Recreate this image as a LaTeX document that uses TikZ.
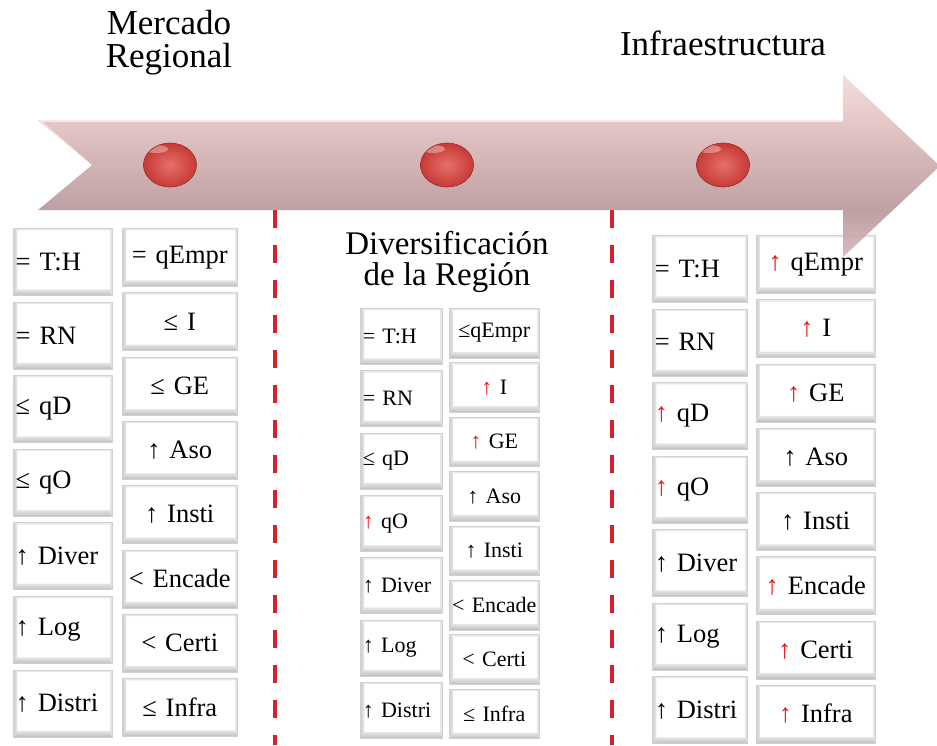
\documentclass[tikz,border=0pt]{standalone}
\usepackage{fontspec}
\setmainfont{Liberation Serif}
\usetikzlibrary{shapes.geometric}
\definecolor{shtop}{RGB}{228,194,194}
\definecolor{shbot}{RGB}{184,150,153}
\definecolor{ahtop}{RGB}{242,218,218}
\definecolor{ahbot}{RGB}{212,182,185}
\definecolor{ballred}{RGB}{200,58,54}
\definecolor{ballhi}{RGB}{228,112,105}
\definecolor{dashred}{RGB}{210,35,45}
\definecolor{upred}{RGB}{235,20,20}
\pgfdeclareverticalshading{arrowshade}{100bp}{color(0bp)=(ahbot); color(25bp)=(ahbot); color(37.9bp)=(shbot); color(62.65bp)=(shtop); color(75bp)=(ahtop); color(100bp)=(ahtop)}
\newcommand{\fbig}{\fontsize{26.5}{30}\selectfont}
\newcommand{\fmid}{\fontsize{22}{25}\selectfont}
\newcommand{\ftitle}{\fontsize{35}{33}\selectfont}
\newcommand{\redup}{{\color{upred}↑}}
\tikzset{
  btn/.style={rectangle, draw=black!18, line width=0.5pt, fill=white,
    inner xsep=2.5pt, inner ysep=0pt, anchor=north west,
    path picture={
      \fill[black!9] (path picture bounding box.north west) -- (path picture bounding box.north east)
        -- ([shift={(-2pt,-2pt)}]path picture bounding box.north east) -- ([shift={(4pt,-2pt)}]path picture bounding box.north west) -- cycle;
      \shade[left color=black!20, right color=black!8] (path picture bounding box.south west) -- (path picture bounding box.north west)
        -- ([shift={(4pt,-2pt)}]path picture bounding box.north west) -- ([shift={(4pt,6pt)}]path picture bounding box.south west) -- cycle;
      \shade[top color=black!10, bottom color=black!25] (path picture bounding box.south west) -- (path picture bounding box.south east)
        -- ([shift={(-2pt,6pt)}]path picture bounding box.south east) -- ([shift={(4pt,6pt)}]path picture bounding box.south west) -- cycle;
      \fill[black!12] (path picture bounding box.north east) -- (path picture bounding box.south east)
        -- ([shift={(-2pt,6pt)}]path picture bounding box.south east) -- ([shift={(-2pt,-2pt)}]path picture bounding box.north east) -- cycle;
    }},
  ballnode/.style={ellipse, minimum width=53pt, minimum height=44pt, inner sep=0pt,
    inner color=ballhi, outer color=ballred, draw=ballred!75!black, line width=0.6pt,
    path picture={\fill[white, opacity=0.35] ([shift={(-14pt,-6pt)}]path picture bounding box.north) ellipse [x radius=12pt, y radius=4pt];}},
  sepline/.style={draw=dashred, line width=4pt, dash pattern=on 18pt off 17pt},
  title/.style={font=\ftitle, align=center, inner sep=0pt}
}
\begin{document}
\begin{tikzpicture}[x=1pt,y=-1pt]
\useasboundingbox (0,0) rectangle (937,745);
\fill[white] (0,0) rectangle (937,745);

% titles
\node[title, anchor=north] (t1) at (169,10) {Mercado\\Regional};
\node[title, anchor=base] (t3) at (723,55) {Infraestructura};
\node[font=\fontsize{33}{31}\selectfont, align=center, inner sep=0pt, anchor=north] (t2) at (447,231) {Diversificación\\de la Región};

% dashed separators
\coordinate (d1a) at (275,210); \coordinate (d1b) at (275,745);
\coordinate (d2a) at (612,210); \coordinate (d2b) at (612,745);
\draw[sepline] (d1a) -- (d1b);
\draw[sepline] (d2a) -- (d2b);

% left group
\foreach \t [count=\i from 0] in {{= T:H},{= RN},{≤ qD},{≤ qO},{↑ Diver},{↑ Log},{↑ Distri}}
  \node[btn, font=\fbig, text width=94pt, minimum height=67pt, align=left] (la\i) at (13,228+73.6*\i) {\t};
\foreach \t [count=\i from 0] in {{= qEmpr},{≤ I},{≤ GE},{↑ Aso},{↑ Insti},{< Encade},{< Certi},{≤ Infra}}
  \node[btn, font=\fbig, text width=110pt, minimum height=58pt, align=center] (lb\i) at (122,228+64.3*\i) {\t};

% middle group
\foreach \t [count=\i from 0] in {{= T:H},{= RN},{≤ qD},{\redup{} qO},{↑ Diver},{↑ Log},{↑ Distri}}
  \node[btn, font=\fmid, text width=77pt, minimum height=56pt, align=left] (ma\i) at (360,308+62.3*\i) {\t};
\foreach \t [count=\i from 0] in {{≤qEmpr},{\redup{} I},{\redup{} GE},{↑ Aso},{↑ Insti},{< Encade},{< Certi},{≤ Infra}}
  \node[btn, font=\fmid, text width=85pt, minimum height=49.5pt, align=center] (mb\i) at (449,308+54.4*\i) {\t};

% right group
\foreach \t [count=\i from 0] in {{= T:H},{= RN},{\redup{} qD},{\redup{} qO},{↑ Diver},{↑ Log},{↑ Distri}}
  \node[btn, font=\fbig, text width=90pt, minimum height=67pt, align=left] (ra\i) at (652,235+73.5*\i) {\t};
\foreach \t [count=\i from 0] in {{\redup{} qEmpr},{\redup{} I},{\redup{} GE},{↑ Aso},{↑ Insti},{\redup{} Encade},{\redup{} Certi},{\redup{} Infra}}
  \node[btn, font=\fbig, text width=114pt, minimum height=58pt, align=center] (rb\i) at (756,235+64.25*\i) {\t};

% big arrow
\shade[shading=arrowshade, fill opacity=0.9] (38,120) -- (843,120) -- (843,75) -- (940,166) -- (843,257) -- (843,210) -- (38,210) -- (92,165) -- cycle;
\draw[white, opacity=0.6, line width=1.2pt] (40,121) -- (843,121);
\draw[white, opacity=0.5, line width=1pt] (42,122) -- (90,164);

% balls
\node[ballnode] (b1) at (170,165) {};
\node[ballnode] (b2) at (447,165) {};
\node[ballnode] (b3) at (723,165) {};
\end{tikzpicture}
\end{document}
